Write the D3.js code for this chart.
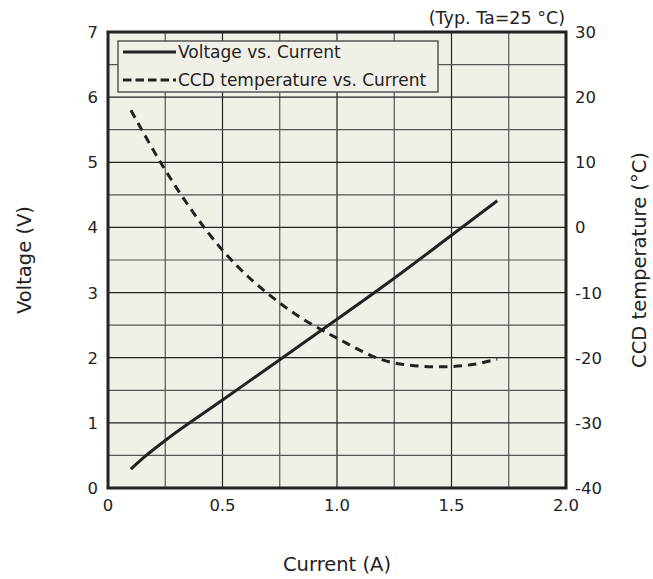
<!DOCTYPE html>
<html>
<head>
<meta charset="utf-8">
<script src="https://cdn.jsdelivr.net/npm/d3@7"></script>
<style>
  html, body { margin: 0; padding: 0; background: #fff; }
  svg { display: block; }
</style>
</head>
<body>
<div id="chart"></div>
<script>
(function () {
  'use strict';

  // --- Data ---
  var current     = [0.10, 0.15, 0.25, 0.50, 0.75, 1.00, 1.25, 1.50, 1.70];
  var voltage     = [0.29, 0.45, 0.73, 1.35, 1.97, 2.59, 3.22, 3.88, 4.41];
  var tempCurrent = [0.10, 0.25, 0.50, 0.75, 1.00, 1.25, 1.45, 1.60, 1.70];
  var temperature = [18.0, 8.8, -3.5, -11.6, -17.0, -20.8, -21.4, -21.0, -20.2];

  var xTicks  = [0, 0.5, 1.0, 1.5, 2.0];
  var yTicks  = [0, 1, 2, 3, 4, 5, 6, 7];
  var y2Ticks = [-40, -30, -20, -10, 0, 10, 20, 30];

  var W = 653, H = 579;
  var plot = { left: 108, top: 32, right: 566, bottom: 488 };
  var font = 'DejaVu Sans, Verdana, sans-serif';
  var ink = '#222';

  var svg = d3.select('#chart').append('svg')
    .attr('width', W).attr('height', H);

  var x = d3.scaleLinear().domain([0, 2]).range([plot.left, plot.right]);
  var y = d3.scaleLinear().domain([0, 7]).range([plot.bottom, plot.top]);
  var y2 = d3.scaleLinear().domain([-40, 30]).range([plot.bottom, plot.top]);

  // background
  svg.append('rect')
    .attr('x', plot.left).attr('y', plot.top)
    .attr('width', plot.right - plot.left).attr('height', plot.bottom - plot.top)
    .attr('fill', '#f1f0e8');

  // --- Grid ---
  var grid = svg.append('g');
  d3.range(0.25, 2, 0.25).forEach(function (v) {
    grid.append('line')
      .attr('x1', x(v)).attr('x2', x(v))
      .attr('y1', plot.top).attr('y2', plot.bottom)
      .attr('stroke', Math.abs(v % 0.5) < 1e-9 ? '#222' : '#555')
      .attr('stroke-width', 1.2);
  });
  d3.range(0.5, 7, 0.5).forEach(function (v) {
    grid.append('line')
      .attr('x1', plot.left).attr('x2', plot.right)
      .attr('y1', y(v)).attr('y2', y(v))
      .attr('stroke', Math.abs(v % 1) < 1e-9 ? '#222' : '#555')
      .attr('stroke-width', 1.2);
  });

  // --- Curves ---
  var vLine = d3.line()
    .x(function (d, i) { return x(current[i]); })
    .y(function (d) { return y(d); })
    .curve(d3.curveMonotoneX);

  var tLine = d3.line()
    .x(function (d, i) { return x(tempCurrent[i]); })
    .y(function (d) { return y2(d); })
    .curve(d3.curveMonotoneX);

  svg.append('path')
    .attr('d', vLine(voltage))
    .attr('fill', 'none').attr('stroke', ink).attr('stroke-width', 3);

  svg.append('path')
    .attr('d', tLine(temperature))
    .attr('fill', 'none').attr('stroke', ink).attr('stroke-width', 3)
    .attr('stroke-dasharray', '8.5 6');

  // plot frame
  svg.append('rect')
    .attr('x', plot.left).attr('y', plot.top)
    .attr('width', plot.right - plot.left).attr('height', plot.bottom - plot.top)
    .attr('fill', 'none').attr('stroke', ink).attr('stroke-width', 3);

  // --- Axes (tick labels only) ---
  var axisG = svg.append('g').attr('font-family', font).attr('font-size', 16.5).attr('fill', ink);

  axisG.selectAll('.xt').data(xTicks).join('text')
    .attr('x', function (d) { return x(d); })
    .attr('y', 511)
    .attr('text-anchor', 'middle')
    .text(function (d) { return d === 0 ? '0' : d.toFixed(1); });

  axisG.selectAll('.yt').data(yTicks).join('text')
    .attr('x', plot.left - 10)
    .attr('y', function (d) { return y(d); })
    .attr('dy', '0.36em')
    .attr('text-anchor', 'end')
    .text(function (d) { return d; });

  axisG.selectAll('.y2t').data(y2Ticks).join('text')
    .attr('x', plot.right + 9)
    .attr('y', function (d) { return y2(d); })
    .attr('dy', '0.36em')
    .attr('text-anchor', 'start')
    .text(function (d) { return d; });

  // --- Titles ---
  svg.append('text')
    .attr('x', (plot.left + plot.right) / 2).attr('y', 571)
    .attr('text-anchor', 'middle')
    .attr('font-family', font).attr('font-size', 19.5).attr('fill', ink)
    .text('Current (A)');

  svg.append('text')
    .attr('transform', 'translate(31,' + (plot.top + plot.bottom) / 2 + ') rotate(-90)')
    .attr('text-anchor', 'middle')
    .attr('font-family', font).attr('font-size', 19.5).attr('fill', ink)
    .text('Voltage (V)');

  svg.append('text')
    .attr('transform', 'translate(646,' + (plot.top + plot.bottom) / 2 + ') rotate(-90)')
    .attr('text-anchor', 'middle')
    .attr('font-family', font).attr('font-size', 19.5).attr('fill', ink)
    .text('CCD temperature (°C)');

  svg.append('text')
    .attr('x', 565).attr('y', 24)
    .attr('text-anchor', 'end')
    .attr('font-family', font).attr('font-size', 17.5).attr('fill', ink)
    .text('(Typ. Ta=25 °C)');

  // --- Legend ---
  var legend = svg.append('g');
  legend.append('rect')
    .attr('x', 118).attr('y', 41).attr('width', 320).attr('height', 51)
    .attr('fill', '#f1f0e8').attr('stroke', '#555').attr('stroke-width', 1.5);

  var legendItems = [
    { label: 'Voltage vs. Current', dash: null, y: 52 },
    { label: 'CCD temperature vs. Current', dash: '8.5 4', y: 80 }
  ];
  legendItems.forEach(function (it) {
    legend.append('line')
      .attr('x1', 123).attr('x2', 176)
      .attr('y1', it.y).attr('y2', it.y)
      .attr('stroke', ink).attr('stroke-width', 3)
      .attr('stroke-dasharray', it.dash);
    legend.append('text')
      .attr('x', 178).attr('y', it.y)
      .attr('dy', '0.36em')
      .attr('font-family', font).attr('font-size', 17).attr('fill', ink)
      .text(it.label);
  });
})();
</script>
</body>
</html>
